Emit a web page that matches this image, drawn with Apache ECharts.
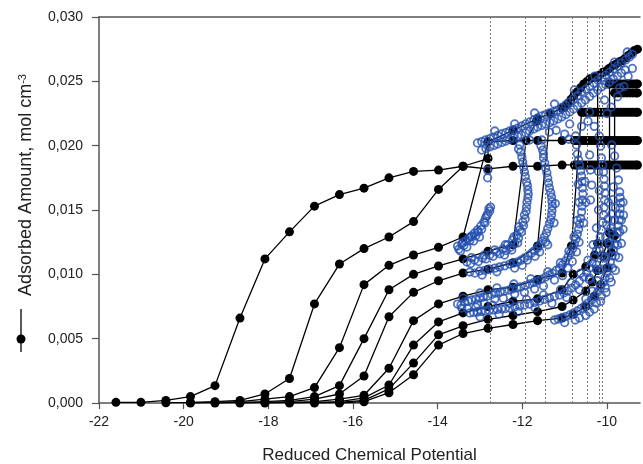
<!DOCTYPE html>
<html><head><meta charset="utf-8">
<script src="https://cdn.jsdelivr.net/npm/echarts@6/dist/echarts.min.js"></script>
<style>html,body{margin:0;padding:0;background:#fff}#c{width:643px;height:464px}</style>
</head><body><div id="c"></div>
<script>
// ---- axes ----
const xMin = -22, xMax = -9.22, xInterval = 2;
const yMin = 0, yMax = 0.03, yInterval = 0.005;
const xTitle = 'Reduced Chemical Potential';
const yTitle = 'Adsorbed Amount, mol cm';
const yTitleSup = '-3';
// vertical dotted reference lines (x positions)
const dottedX = [-12.755, -11.92, -11.45, -10.82, -10.47, -10.19, -10.10];

// ---- black isotherms (filled circles with lines) ----
const c1 = [[-21.60,0.00005],[-21.01,0.00005],[-20.42,0.0002],[-19.84,0.0005],[-19.26,0.00135],[-18.67,0.0066],[-18.08,0.0112],[-17.50,0.0133],[-16.91,0.0153],[-16.32,0.0162],[-15.74,0.0167],[-15.15,0.0175],[-14.57,0.0180],[-13.98,0.0181],[-13.40,0.0184],[-12.81,0.0182],[-12.22,0.0184],[-11.64,0.0184],[-11.06,0.0185],[-10.77,0.0185]];
const c2 = [[-20.42,0.00002],[-19.84,0.00005],[-19.26,0.0001],[-18.67,0.0002],[-18.08,0.0007],[-17.50,0.0019],[-16.91,0.0077],[-16.32,0.0108],[-15.74,0.0120],[-15.15,0.0129],[-14.57,0.0141],[-13.98,0.0166],[-13.40,0.0184],[-12.81,0.0190],[-12.81,0.0203],[-12.22,0.0204],[-11.64,0.0204],[-11.06,0.0204],[-10.77,0.0204]];
const c3 = [[-19.84,0],[-19.26,0.00005],[-18.67,0.0001],[-18.08,0.0003],[-17.50,0.0005],[-16.91,0.0012],[-16.32,0.0043],[-15.74,0.0092],[-15.15,0.0107],[-14.57,0.0115],[-13.98,0.0121],[-13.40,0.0129],[-12.81,0.0203],[-12.22,0.0212],[-11.64,0.0221],[-11.06,0.0229]];
const c4 = [[-19.26,0],[-18.67,0.00005],[-18.08,0.0001],[-17.50,0.0002],[-16.91,0.0005],[-16.32,0.00135],[-15.74,0.0050],[-15.15,0.0088],[-14.57,0.0100],[-13.98,0.01065],[-13.40,0.0112],[-12.81,0.0118],[-12.22,0.0123],[-11.91,0.0204],[-11.66,0.0219]];
const c5 = [[-18.67,0],[-18.08,0.00005],[-17.50,0.0001],[-16.91,0.0003],[-16.32,0.0007],[-15.74,0.0021],[-15.15,0.0067],[-14.57,0.0086],[-13.98,0.0095],[-13.40,0.0101],[-12.81,0.0104],[-12.22,0.0109],[-11.64,0.0122],[-11.34,0.0225]];
const c6 = [[-18.08,0],[-17.50,0.00005],[-16.91,0.0001],[-16.32,0.0003],[-15.74,0.0006],[-15.15,0.0027],[-14.57,0.0064],[-13.98,0.0077],[-13.40,0.0083],[-12.81,0.0088],[-12.22,0.0090],[-11.64,0.0096],[-11.06,0.0101],[-10.84,0.0122],[-10.60,0.0226]];
const c7 = [[-17.50,0],[-16.91,0.00005],[-16.32,0.0001],[-15.74,0.0004],[-15.15,0.0014],[-14.57,0.0045],[-13.98,0.0063],[-13.40,0.0070],[-12.81,0.0075],[-12.22,0.0079],[-11.64,0.0081],[-11.06,0.0088],[-10.80,0.0100],[-10.50,0.0106],[-10.29,0.0115],[-10.22,0.0124],[-10.22,0.0253]];
const c8 = [[-16.91,0],[-16.32,0.00005],[-15.74,0.0002],[-15.15,0.0011],[-14.57,0.0031],[-13.98,0.0053],[-13.40,0.0060],[-12.81,0.0065],[-12.22,0.0068],[-11.64,0.0071],[-11.06,0.0075],[-10.80,0.0080],[-10.50,0.0087],[-10.35,0.0094],[-10.22,0.0103],[-10.10,0.0114],[-10.00,0.0124],[-9.94,0.0132],[-9.94,0.0248]];
const c9 = [[-16.32,0],[-15.74,0.0001],[-15.15,0.0008],[-14.57,0.0022],[-13.98,0.0045],[-13.40,0.0054],[-12.81,0.0058],[-12.22,0.0061],[-11.64,0.0064],[-11.06,0.0066],[-10.80,0.0069],[-10.50,0.0075],[-10.30,0.0083],[-10.15,0.0092],[-10.00,0.0105],[-9.90,0.0117],[-9.82,0.0130],[-9.82,0.0241]];

// dense high-pressure points (plateaus and upper diagonal)
const p1 = [[-10.72,0.0185],[-10.65,0.0185],[-10.58,0.0185],[-10.51,0.0185],[-10.44,0.0185],[-10.37,0.0185],[-10.30,0.0185],[-10.23,0.0185],[-10.16,0.0185],[-10.09,0.0185],[-10.02,0.0185],[-9.95,0.0185],[-9.88,0.0185],[-9.81,0.0185],[-9.74,0.0185],[-9.67,0.0185],[-9.60,0.0185],[-9.53,0.0185],[-9.46,0.0185],[-9.39,0.0185],[-9.32,0.0185],[-9.28,0.0185]];
const p2 = [[-10.72,0.0204],[-10.65,0.0204],[-10.58,0.0204],[-10.51,0.0204],[-10.44,0.0204],[-10.37,0.0204],[-10.30,0.0204],[-10.23,0.0204],[-10.16,0.0204],[-10.09,0.0204],[-10.02,0.0204],[-9.95,0.0204],[-9.88,0.0204],[-9.81,0.0204],[-9.74,0.0204],[-9.67,0.0204],[-9.60,0.0204],[-9.53,0.0204],[-9.46,0.0204],[-9.39,0.0204],[-9.32,0.0204],[-9.28,0.0204]];
const p3 = [[-10.58,0.0226],[-10.51,0.0226],[-10.44,0.0226],[-10.37,0.0226],[-10.30,0.0226],[-10.23,0.0226],[-10.16,0.0226],[-10.09,0.0226],[-10.02,0.0226],[-9.95,0.0226],[-9.88,0.0226],[-9.81,0.0226],[-9.74,0.0226],[-9.67,0.0226],[-9.60,0.0226],[-9.53,0.0226],[-9.46,0.0226],[-9.39,0.0226],[-9.32,0.0226],[-9.28,0.0226]];
const p4 = [[-9.81,0.0241],[-9.74,0.0241],[-9.67,0.0241],[-9.60,0.0241],[-9.53,0.0241],[-9.46,0.0241],[-9.39,0.0241],[-9.32,0.0241],[-9.28,0.0241]];
const p5 = [[-9.95,0.0248],[-9.88,0.0248],[-9.81,0.0248],[-9.74,0.0248],[-9.67,0.0248],[-9.60,0.0248],[-9.53,0.0248],[-9.46,0.0248],[-9.39,0.0248],[-9.32,0.0248],[-9.28,0.0248]];
const pd = [[-11.00,0.0230],[-10.92,0.0233],[-10.85,0.0236],[-10.78,0.0239],[-10.70,0.0242],[-10.62,0.0245],[-10.55,0.0248],[-10.47,0.0250],[-10.40,0.0252],[-10.32,0.0253],[-10.25,0.0254],[-10.17,0.0255],[-10.10,0.0257],[-10.02,0.0258],[-9.95,0.0260],[-9.87,0.0262],[-9.80,0.0263],[-9.72,0.0265],[-9.65,0.0266],[-9.57,0.0268],[-9.50,0.0270],[-9.42,0.0272],[-9.35,0.0274],[-9.28,0.0275]];

// ---- blue open circles ----
const blueB1 = [[-13.53,0.0122],[-13.43,0.01236],[-13.34,0.01259],[-13.27,0.01282],[-13.20,0.01298],[-13.13,0.01321],[-13.06,0.01345],[-12.98,0.01376],[-12.91,0.01407],[-12.87,0.01438],[-12.82,0.01469],[-12.77,0.01492],[-12.75,0.01523],[-13.46,0.01181],[-13.31,0.01212],[-13.15,0.01259],[-13.01,0.0129],[-12.82,0.0181],[-12.82,0.0175],
  [-13.50,0.01195],[-13.38,0.01225],[-13.24,0.01262],[-13.10,0.0130],[-12.96,0.0135],[-12.88,0.0140],[-12.84,0.01455],[-12.79,0.0151],[-13.40,0.0125],[-13.22,0.0129],[-13.04,0.0133]];
const blueB2 = [[-13.31,0.01096],[-13.13,0.01111],[-12.94,0.01127],[-12.77,0.0115],[-12.61,0.01174],[-12.46,0.01197],[-12.35,0.01228],[-12.23,0.01267],[-12.13,0.01306],[-12.06,0.01345],[-11.99,0.01407],[-11.95,0.01461],[-11.90,0.01523],[-11.87,0.01593],[-11.87,0.01655],[-11.90,0.01718],[-11.95,0.01795],[-11.99,0.01873],[-12.04,0.01951],[-12.06,0.02005],[-12.42,0.0115],[-12.25,0.01189],[-12.11,0.01244],
  [-13.22,0.01085],[-13.04,0.0110],[-12.86,0.0112],[-12.69,0.0114],[-12.53,0.0116],[-12.38,0.01185],[-12.28,0.0121],[-12.18,0.0124],[-12.09,0.0128],[-12.02,0.0133],[-11.97,0.0138],[-11.93,0.0143],[-11.91,0.0149],[-11.89,0.0156],[-11.86,0.01625],[-11.88,0.0169],[-11.93,0.0176],[-11.97,0.01835],[-12.01,0.0191],[-12.09,0.01975],
  [-13.20,0.0113],[-12.90,0.0115],[-12.65,0.0119],[-12.40,0.0123],[-12.20,0.0129],[-12.08,0.0137]];
const blueB3 = [[-13.24,0.01018],[-13.01,0.01026],[-12.77,0.01041],[-12.54,0.01057],[-12.30,0.0108],[-12.11,0.01096],[-11.95,0.01127],[-11.78,0.01166],[-11.64,0.01205],[-11.52,0.01259],[-11.43,0.01321],[-11.36,0.01391],[-11.31,0.01461],[-11.29,0.01531],[-11.31,0.01601],[-11.36,0.01671],[-11.40,0.01749],[-11.45,0.01826],[-11.50,0.01904],[-11.52,0.01966],[-11.54,0.02044],[-12.18,0.01049],[-11.88,0.01111],[-11.59,0.01174],[-11.45,0.01251],
  [-13.12,0.0101],[-12.89,0.0103],[-12.65,0.01048],[-12.42,0.01066],[-12.20,0.01088],[-12.03,0.0111],[-11.86,0.01145],[-11.71,0.01185],[-11.58,0.0123],[-11.48,0.0129],[-11.40,0.01355],[-11.33,0.01425],[-11.30,0.01495],[-11.30,0.01565],[-11.33,0.01635],[-11.38,0.0171],[-11.42,0.0179],[-11.47,0.01865],[-11.50,0.01935],[-11.56,0.0200],
  [-12.95,0.00995],[-12.60,0.0102],[-12.00,0.0107],[-11.70,0.0114],[-11.40,0.0123],[-11.25,0.0140],[-11.22,0.0155]];
const blueB4 = [[-13.53,0.00769],[-13.36,0.00785],[-13.20,0.00801],[-13.01,0.00816],[-12.82,0.00832],[-12.63,0.00855],[-12.42,0.0087],[-12.23,0.00886],[-12.04,0.00902],[-11.83,0.00925],[-11.64,0.00948],[-11.45,0.00979],[-11.29,0.0101],[-11.12,0.01049],[-10.98,0.01104],[-10.86,0.01166],[-10.77,0.01236],[-10.70,0.01313],[-10.65,0.01391],[-10.60,0.01484],[-10.58,0.01578],[-10.58,0.01671],[-10.60,0.01764],[-10.65,0.0185],[-10.70,0.01935],[-10.72,0.02005],[-10.74,0.02075],[-13.43,0.00738],[-13.06,0.00769],[-12.65,0.00808],[-12.18,0.00847],[-11.71,0.00886],[-11.24,0.00956],[-10.93,0.01049],[-10.72,0.01174],
  [-13.45,0.0076],[-13.28,0.00792],[-13.10,0.00808],[-12.92,0.00824],[-12.72,0.00843],[-12.52,0.00862],[-12.32,0.00878],[-12.13,0.00894],[-11.93,0.00913],[-11.73,0.00936],[-11.55,0.00963],[-11.37,0.00994],[-11.20,0.0103],[-11.05,0.01075],[-10.92,0.01135],[-10.81,0.0120],[-10.73,0.01275],[-10.67,0.0135],[-10.62,0.01435],[-10.59,0.0153],[-10.57,0.01625],[-10.59,0.0172],[-10.62,0.01805],[-10.67,0.0189],
  [-13.40,0.00815],[-13.00,0.00855],[-12.60,0.00895],[-12.20,0.00925],[-11.80,0.00965],[-11.40,0.0102],[-11.10,0.0109],[-10.90,0.0118],[-10.78,0.0129],[-10.70,0.0142],[-10.66,0.0156],[-10.68,0.0170],
  [-13.30,0.00735],[-12.90,0.00775],[-12.45,0.00815],[-11.95,0.0086],[-11.50,0.0091],[-11.05,0.0099],[-10.82,0.0110],[-10.66,0.0125],[-10.55,0.0140],[-10.50,0.0156],[-10.52,0.0172]];
const blueB5 = [[-13.24,0.0070],[-13.06,0.00707],[-12.87,0.00715],[-12.68,0.00723],[-12.49,0.00731],[-12.30,0.00738],[-12.06,0.00754],[-11.83,0.00769],[-11.59,0.00793],[-11.36,0.00816],[-11.12,0.00839],[-10.93,0.0087],[-10.74,0.00917],[-10.55,0.00979],[-10.41,0.01049],[-10.29,0.01135],[-10.20,0.01236],[-10.13,0.01345],[-10.08,0.01461],[-10.06,0.01578],[-10.06,0.01686],[-10.08,0.01795],[-10.13,0.01904],[-10.15,0.01997],[-10.18,0.02075],[-10.41,0.00972],[-10.25,0.01073],[-10.18,0.01189],[-10.01,0.01383],[-10.39,0.01578],[-10.36,0.01694],[-10.39,0.01811],[-10.41,0.01928],
  [-13.15,0.00704],[-12.97,0.00711],[-12.78,0.00719],[-12.59,0.00727],[-12.40,0.00734],[-12.18,0.00746],[-11.95,0.00761],[-11.71,0.00781],[-11.48,0.00805],[-11.24,0.00828],[-11.02,0.00855],[-10.84,0.00893],[-10.65,0.00948],[-10.48,0.01014],[-10.35,0.01092],[-10.25,0.01185],[-10.16,0.0129],[-10.10,0.01403],[-10.07,0.0152],[-10.05,0.01632],[-10.07,0.0174],[-10.10,0.0185],
  [-13.10,0.00745],[-12.70,0.0076],[-12.30,0.00775],[-11.90,0.00805],[-11.50,0.0084],[-11.10,0.0088],[-10.85,0.00935],[-10.62,0.0101],[-10.45,0.0111],[-10.33,0.0123],[-10.25,0.0136],[-10.20,0.0150],[-10.18,0.0165],[-10.20,0.0180],
  [-13.00,0.0067],[-12.55,0.0069],[-12.10,0.0071],[-11.70,0.0074],[-11.30,0.00775],[-10.95,0.0082],[-10.65,0.0088],[-10.42,0.0096],[-10.25,0.0104],[-10.12,0.0115],[-10.03,0.0129],[-9.98,0.0143],[-9.97,0.0156]];
const blueB6 = [[-11.24,0.00645],[-11.07,0.00661],[-10.88,0.00684],[-10.70,0.00715],[-10.53,0.00754],[-10.36,0.00801],[-10.22,0.00863],[-10.10,0.00933],[-10.01,0.0101],[-9.92,0.01096],[-9.85,0.01189],[-9.77,0.01282],[-9.73,0.01376],[-9.70,0.01469],[-9.68,0.01554],[-9.70,0.0164],[-10.65,0.00661],[-10.41,0.00707],[-10.25,0.00777],[-10.13,0.00832],[-10.04,0.00894],[-9.94,0.00972],[-9.87,0.01049],[-9.80,0.01143],[-9.75,0.01228],[-9.70,0.01329],[-9.66,0.01422],[-10.18,0.01034],[-10.06,0.01127],[-9.94,0.01228],[-9.87,0.01329],[-9.82,0.01422],[-9.80,0.01515],[-9.73,0.01733],[-9.77,0.01826],[-9.82,0.0192],[-9.89,0.02005],
  [-11.15,0.00653],[-10.98,0.00672],[-10.79,0.0070],[-10.61,0.00735],[-10.45,0.00777],[-10.29,0.00832],[-10.16,0.00898],[-10.05,0.00972],[-9.97,0.01053],[-9.88,0.01143],[-9.81,0.01235],[-9.75,0.01329],[-9.71,0.01422],[-9.69,0.01512],[-9.69,0.01597],
  [-11.00,0.00625],[-10.75,0.00645],[-10.50,0.0068],[-10.30,0.0073],[-10.15,0.0079],[-10.02,0.0086],[-9.90,0.0094],[-9.80,0.0103],[-9.72,0.0113],[-9.66,0.0124],[-9.62,0.0135],[-9.61,0.0146],[-9.62,0.0156],
  [-10.50,0.0081],[-10.35,0.0087],[-10.22,0.0095],[-10.12,0.0104],[-10.03,0.0114],[-9.96,0.0125],[-9.91,0.0136],[-9.88,0.0147],[-9.86,0.0158],[-9.85,0.0168]];
const blueD = [[-13.06,0.02021],[-12.87,0.02044],[-12.68,0.02067],[-12.49,0.02091],[-12.30,0.02114],[-12.11,0.02137],[-11.92,0.02169],[-11.73,0.022],[-11.54,0.02231],[-11.36,0.02254],[-11.17,0.02277],[-10.98,0.02316],[-10.79,0.02363],[-10.60,0.02417],[-10.41,0.02464],[-10.22,0.0251],[-10.03,0.02549],[-9.85,0.02596],[-9.66,0.02643],[-9.47,0.02689],
  [-12.96,0.01966],[-12.77,0.0199],[-12.58,0.02013],[-12.39,0.02036],[-12.21,0.0206],[-12.02,0.02083],[-11.83,0.02114],[-11.64,0.02145],[-11.45,0.02169],[-11.26,0.02192],[-11.07,0.02223],[-10.88,0.02262],[-10.70,0.02308],[-10.51,0.02355],[-10.32,0.02409],[-10.13,0.02456],[-9.94,0.02495],[-9.75,0.02541],[-9.57,0.02588],
  [-12.65,0.02114],[-12.18,0.02169],[-11.71,0.02254],[-11.24,0.02324],[-10.77,0.02433],[-10.29,0.02541],[-9.82,0.0265],[-9.52,0.02728],
  [-11.83,0.02044],[-11.36,0.02106],[-10.88,0.02169],[-10.41,0.02262],[-10.06,0.02355],[-9.70,0.02448],
  [-12.96,0.02032],[-12.77,0.02055],[-12.58,0.02079],[-12.39,0.02102],[-12.20,0.02125],[-12.01,0.02153],[-11.82,0.02185],[-11.64,0.02215],[-11.45,0.02242],[-11.26,0.02265],[-11.07,0.02297],[-10.88,0.0234],[-10.69,0.0239],[-10.50,0.0244],[-10.31,0.02487],[-10.12,0.0253],[-9.94,0.02572],[-9.75,0.0262],[-9.56,0.02666],[-9.40,0.0271],
  [-12.86,0.01978],[-12.67,0.02002],[-12.48,0.02025],[-12.30,0.02048],[-12.11,0.02072],[-11.92,0.02099],[-11.73,0.0213],[-11.54,0.02157],[-11.35,0.0218],[-11.16,0.02208],[-10.97,0.02242],[-10.79,0.02285],[-10.60,0.02332],[-10.41,0.02382],[-10.22,0.02432],[-10.03,0.02475],[-9.85,0.02518],[-9.66,0.02565],
  [-11.20,0.0212],[-11.00,0.0209],[-10.90,0.0205],[-10.60,0.0215],[-10.45,0.0219],[-10.30,0.0215],[-10.00,0.0225],[-9.90,0.0230],[-9.75,0.0238],[-9.60,0.0246],[-9.50,0.0254],[-9.40,0.0260]];

const BLACK = '#000';
const BLUE = '#2450b0';
const AXIS = '#555';
const FONT = '"Liberation Sans", Arial, sans-serif';

const blackSets = [c1.concat(p1), c2.concat(p2), c3.concat(pd), c4, c5, c6.concat(p3), c7, c8.concat(p5), c9.concat(p4)];
const blueAll = [].concat(blueB1, blueB2, blueB3, blueB4, blueB5, blueB6, blueD);

const series = [];
series.push({
  type: 'line', data: [], silent: true,
  markLine: { silent: true, symbol: ['none','none'], label: {show:false},
    lineStyle: { type: [2,2], color: '#777', width: 1 },
    data: dottedX.map(v => ({ xAxis: v })) }
});
blackSets.forEach(d => series.push({
  type: 'line', data: d, symbol: 'circle', symbolSize: 9, z: 3,
  itemStyle: { color: BLACK }, lineStyle: { color: BLACK, width: 1.3 }
}));
series.push({
  type: 'scatter', data: blueAll, symbol: 'circle', symbolSize: 7.5, z: 4,
  itemStyle: { color: 'rgba(0,0,0,0)', borderColor: BLUE, borderWidth: 1.8 }
});

const chart = echarts.init(document.getElementById('c'), null, { renderer: 'canvas' });
chart.setOption({
  animation: false,
  backgroundColor: '#fff',
  grid: { left: 99, right: 3, top: 17, bottom: 61, containLabel: false, outerBoundsMode: 'none' },
  xAxis: [{
    type: 'value', min: xMin, max: xMax, interval: xInterval,
    name: xTitle, nameLocation: 'middle', nameGap: 44,
    nameTextStyle: { fontFamily: FONT, fontSize: 17, color: '#222' },
    axisLine: { lineStyle: { color: AXIS, width: 1.5 } },
    axisTick: { show: true, inside: false, length: 6, lineStyle: { color: AXIS, width: 1.2 } },
    axisLabel: { fontFamily: FONT, fontSize: 14, color: '#222', margin: 12,
      showMaxLabel: false },
    splitLine: { show: false }
  }, {
    type: 'value', position: 'top', min: xMin, max: xMax,
    axisLine: { show: true, lineStyle: { color: AXIS, width: 1.5 } },
    axisTick: { show: false }, axisLabel: { show: false }, splitLine: { show: false }
  }],
  yAxis: {
    type: 'value', min: yMin, max: yMax, interval: yInterval,
    axisLine: { show: true, lineStyle: { color: AXIS, width: 1.5 } },
    axisTick: { show: true, inside: false, length: 7, lineStyle: { color: AXIS, width: 1.2 } },
    axisLabel: { fontFamily: FONT, fontSize: 14, color: '#222', margin: 16,
      formatter: v => v.toFixed(3).replace('.', ',') },
    splitLine: { show: false }
  },
  graphic: [
    { type: 'text', x: 26, y: 185, rotation: Math.PI / 2, silent: true,
      style: { text: yTitle + '{sup|' + yTitleSup + '}', font: '18px ' + FONT, fill: '#222',
        align: 'center', verticalAlign: 'middle',
        rich: { sup: { fontSize: 11, fontFamily: FONT, fill: '#222', verticalAlign: 'top', lineHeight: 11 } } } },
    { type: 'line', silent: true, shape: { x1: 21, y1: 309, x2: 21, y2: 352 }, style: { stroke: '#000', lineWidth: 1.3 } },
    { type: 'circle', silent: true, shape: { cx: 21, cy: 339, r: 4.5 }, style: { fill: '#000' } }
  ],
  series: series
});
</script>
</body></html>
